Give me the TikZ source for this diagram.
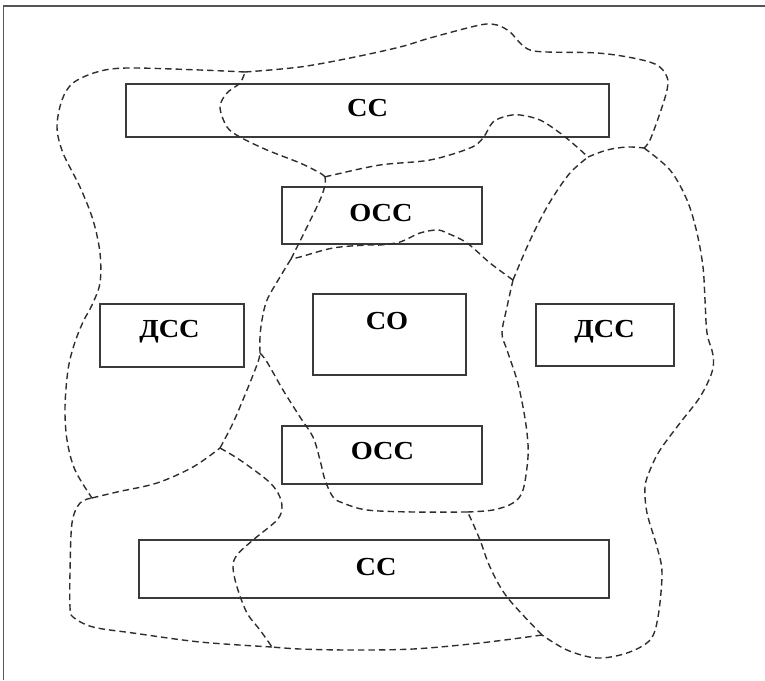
\documentclass[tikz,border=0pt]{standalone}
\usepackage{fontspec}
\usepackage{graphicx}
\setmainfont{Liberation Serif}
\definecolor{boxline}{HTML}{3A3A3A}
\definecolor{dashline}{HTML}{2E2E2E}
\definecolor{frameline}{HTML}{555555}
\tikzset{
  box/.style={draw=boxline, line width=1.4pt, minimum width=#1, inner sep=0pt},
  lbl/.style={anchor=base, inner sep=0pt, font=\fontsize{26}{30}\selectfont\bfseries},
  bound/.style={draw=dashline, line width=1.4pt, dash pattern=on 6.5pt off 4pt},
  frm/.style={draw=frameline, line width=1.6pt}
}
\newcommand{\wlbl}[1]{\scalebox{1.09}[1]{#1}}
\begin{document}
\begin{tikzpicture}[x=1pt, y=-1pt]
\useasboundingbox (0,0) rectangle (765,680);
% frame (only top and left edges visible)
\coordinate (f0) at (3.5,6);
\coordinate (f1) at (765,6);
\coordinate (f2) at (3.5,680);
\draw[frm] (f2) -- (f0) -- (f1);

% boxes
\node[box=483pt, minimum height=53pt] (ccTop) at (367.5,110.5) {};
\node[box=200pt, minimum height=57pt] (oscTop) at (382,215.5) {};
\node[box=144pt, minimum height=63pt] (dscL) at (172,335.5) {};
\node[box=153pt, minimum height=81pt] (co) at (389.5,334.5) {};
\node[box=138pt, minimum height=62pt] (dscR) at (605,335) {};
\node[box=200pt, minimum height=58pt] (oscBot) at (382,455) {};
\node[box=470pt, minimum height=58pt] (ccBot) at (374,569) {};

% labels
\node[lbl] (tccTop) at (367.5,116.5) {\wlbl{СС}};
\node[lbl] (toscTop) at (381,221.5) {\wlbl{ОСС}};
\node[lbl] (tdscL) at (169.5,337.5) {\wlbl{ДСС}};
\node[lbl] (tco) at (387,329) {\wlbl{СО}};
\node[lbl] (tdscR) at (604.5,337.5) {\wlbl{ДСС}};
\node[lbl] (toscBot) at (382.5,459) {\wlbl{ОСС}};
\node[lbl] (tccBot) at (376,575) {\wlbl{СС}};

% junctions of the dashed boundaries
\coordinate (J1) at (245,72);
\coordinate (J2) at (325,177);
\coordinate (J3) at (291,259);
\coordinate (J4) at (260,353);
\coordinate (J5) at (220,448);
\coordinate (J6) at (92,498);
\coordinate (J7) at (272,647);
\coordinate (J8) at (542,635);
\coordinate (J9) at (467,512);
\coordinate (J10) at (513,280);
\coordinate (J11) at (588,157);
\coordinate (J12) at (644,148);

\begin{scope}[bound]
% left outer
\draw plot[smooth, tension=0.55] coordinates {(J1) (200,70) (127,68) (97,72) (73,83) (62,100) (57,127) (63,153) (80,187) (93,220) (100,253) (100,283) (92,305) (83,322) (74,345) (68,370) (65,407) (67,440) (75,470) (J6)};
\draw plot[smooth, tension=0.55] coordinates {(J6) (117,492) (157,483) (193,467) (J5)};
\draw plot[smooth, tension=0.55] coordinates {(J5) (233,423) (247,390) (258,362) (J4)};
\draw plot[smooth, tension=0.55] coordinates {(J4) (260,337) (262,320) (267,300) (280,277) (J3)};
\draw plot[smooth, tension=0.55] coordinates {(J3) (307,227) (320,200) (325,185) (J2)};
\draw plot[smooth, tension=0.55] coordinates {(J2) (320,173) (300,163) (267,150) (240,137) (227,127) (220,107) (227,93) (240,83) (J1)};
% top
\draw plot[smooth, tension=0.55] coordinates {(J1) (300,67) (350,58) (400,47) (430,38) (480,25) (497,25) (510,32) (520,43) (530,50) (547,52) (597,53) (633,58) (657,65) (667,77) (667,90) (660,113) (650,140) (J12)};
\draw plot[smooth, tension=0.55] coordinates {(J2) (333,175) (380,165) (430,160) (470,148) (483,138) (493,122) (507,116) (520,115) (540,120) (560,133) (577,147) (J11)};
\draw plot[smooth, tension=0.55] coordinates {(J11) (607,150) (627,147) (J12)};
% right outer
\draw plot[smooth, tension=0.55] coordinates {(J12) (670,170) (687,200) (697,233) (703,267) (705,300) (707,333) (713,355) (712,372) (700,397) (680,423) (660,450) (650,470) (645,487) (647,513) (657,547) (662,573) (658,617) (650,640) (627,653) (597,658) (567,650) (J8)};
\draw plot[smooth, tension=0.55] coordinates {(J8) (507,597) (490,567) (480,540) (470,517) (J9)};
% bottom
\draw plot[smooth, tension=0.55] coordinates {(J8) (480,643) (413,649) (350,650) (300,649) (J7)};
\draw plot[smooth, tension=0.55] coordinates {(J7) (200,642) (133,633) (93,627) (73,617) (70,607) (70,573) (72,523) (80,503) (J6)};
\draw plot[smooth, tension=0.55] coordinates {(J5) (240,460) (267,480) (278,493) (282,507) (277,520) (253,540) (237,555) (233,567) (237,587) (247,613) (260,630) (J7)};
% central
\draw plot[smooth, tension=0.55] coordinates {(J4) (267,362) (283,390) (300,417) (313,437) (320,460) (325,480) (333,497) (343,503) (367,510) (413,512) (J9)};
\draw plot[smooth, tension=0.55] coordinates {(J9) (493,510) (513,503) (523,490) (528,457) (527,433) (523,407) (517,380) (507,350) (502,333) (507,307) (J10)};
\draw plot[smooth, tension=0.55] coordinates {(J10) (527,247) (540,220) (553,197) (570,173) (J11)};
\draw plot[smooth, tension=0.55] coordinates {(J10) (490,263) (467,243) (447,233) (437,230) (420,233) (400,242) (380,245) (367,245) (333,248) (300,257) (J3)};
\end{scope}
\end{tikzpicture}
\end{document}
